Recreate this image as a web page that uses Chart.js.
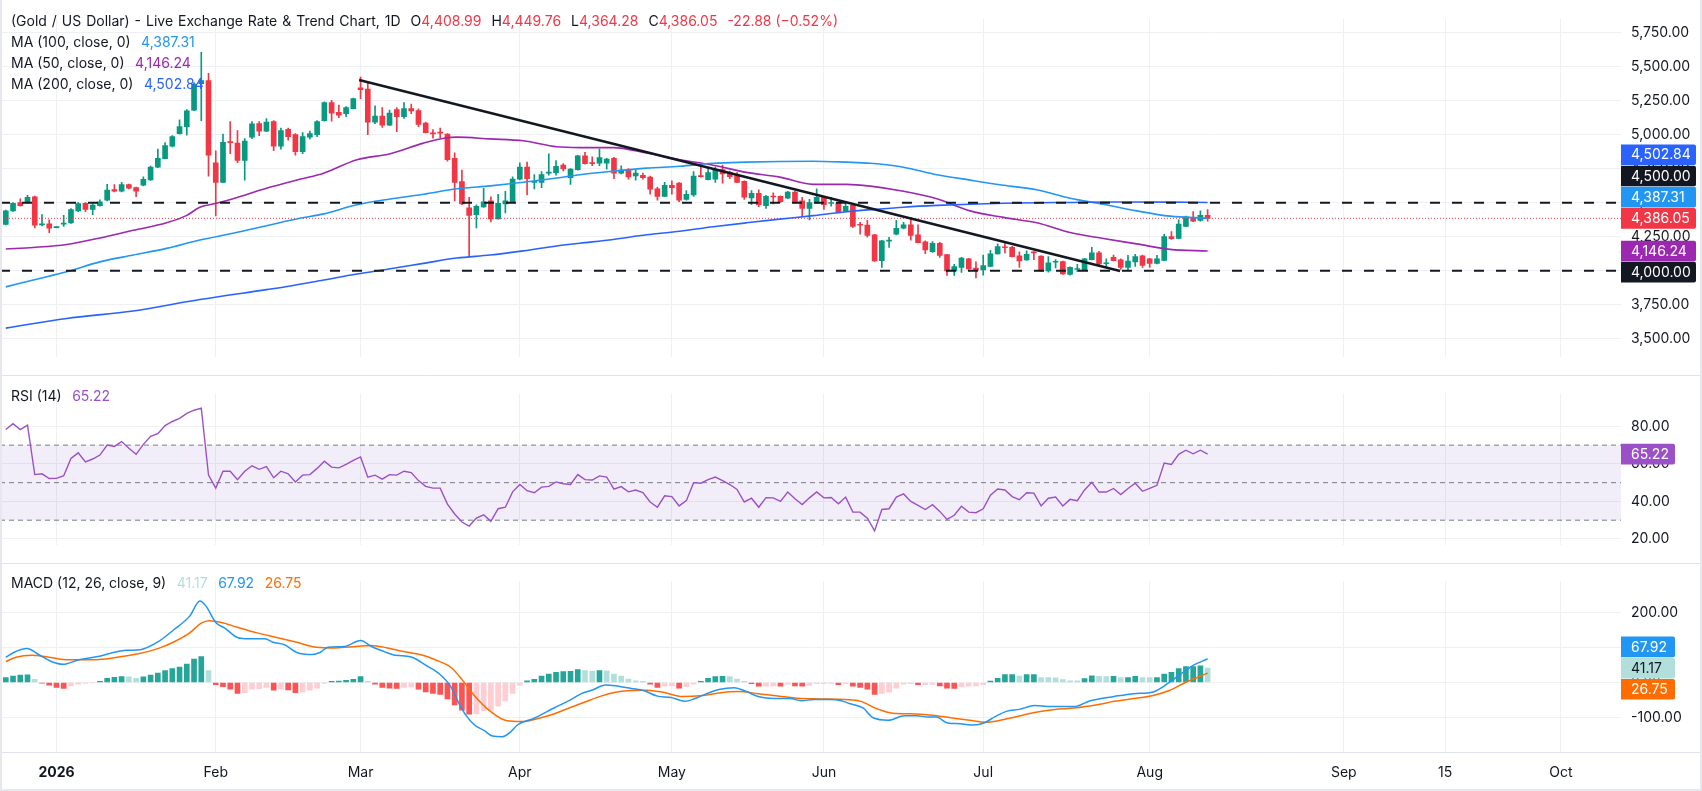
<!DOCTYPE html>
<html>
<head>
<meta charset="utf-8">
<title>Gold / US Dollar</title>
<script src="https://cdn.jsdelivr.net/npm/chart.js@4.4.1/dist/chart.umd.min.js"></script>
<style>
  html, body { margin: 0; padding: 0; background: #fff; }
  #wrap { position: relative; width: 1702px; height: 791px; overflow: hidden; font-family: Inter, sans-serif; background: #fff; }
  canvas { position: absolute; left: 0; }
  .lg { position: absolute; left: 11px; font-size: 14px; line-height: 20px; color: #131722; white-space: nowrap; }
  .lg .v { margin-left: 10.5px; }
  .lg .g { margin-left: 10px; }
  .lg .r { color: #f23645; }
  .lg .t { word-spacing: 1px; }
  .edge { position: absolute; background: #e6e8ee; }
</style>
</head>
<body>
<div id="wrap">
  <canvas id="priceChart" width="1702" height="375" style="top:0"></canvas>
  <canvas id="rsiChart" width="1702" height="188" style="top:375px"></canvas>
  <canvas id="macdChart" width="1702" height="228" style="top:563px"></canvas>

  <div class="lg" style="top:11px"><span class="t">(Gold / US Dollar) - Live Exchange Rate &amp; Trend Chart, 1D</span><span class="g">O<span class="r">4,408.99</span></span><span class="g">H<span class="r">4,449.76</span></span><span class="g">L<span class="r">4,364.28</span></span><span class="g">C<span class="r">4,386.05</span></span><span class="g r">-22.88 (−0.52%)</span></div>
  <div class="lg" style="top:32px">MA (100, close, 0)<span class="v" style="color:#2196f3">4,387.31</span></div>
  <div class="lg" style="top:53px">MA (50, close, 0)<span class="v" style="color:#9c27b0">4,146.24</span></div>
  <div class="lg" style="top:74px">MA (200, close, 0)<span class="v" style="color:#2962ff">4,502.84</span></div>
  <div class="lg" style="top:386px">RSI (14)<span class="v" style="color:#9c50c8">65.22</span></div>
  <div class="lg" style="top:573px">MACD (12, 26, close, 9)<span class="v" style="color:#b2dfdb">41.17</span><span class="v" style="color:#2196f3">67.92</span><span class="v" style="color:#ff6d00">26.75</span></div>

  <div class="edge" style="left:0;top:0;width:2px;height:791px"></div>
  <div class="edge" style="left:1700px;top:0;width:2px;height:791px"></div>
  <div class="edge" style="left:0;top:789px;width:1702px;height:2px"></div>
</div>
<script>
// daily candles, 22 Dec 2025 .. 11 Aug 2026 (index 0..166)
const open = [
  4342, 4441, 4501, 4501, 4545, 4337, 4346, 4318, 4344, 4353,
  4441, 4497, 4452, 4479, 4519, 4598, 4585, 4634, 4612, 4629,
  4669, 4762, 4824, 4917, 5009, 5060, 5182, 5376, 5399, 4795,
  4651, 4948, 4939, 4811, 4983, 5082, 5027, 5098, 4917, 5040,
  5001, 4877, 4983, 5001, 5105, 5237, 5166, 5155, 5193, 5346,
  5337, 5094, 5138, 5071, 5186, 5133, 5193, 5178, 5087, 5012,
  5016, 5005, 4828, 4656, 4463, 4413, 4470, 4514, 4382, 4492,
  4508, 4674, 4762, 4651, 4651, 4718, 4722, 4777, 4685, 4744,
  4846, 4793, 4791, 4791, 4828, 4718, 4740, 4698, 4702, 4689,
  4603, 4547, 4629, 4645, 4525, 4559, 4698, 4671, 4674, 4744,
  4722, 4700, 4658, 4536, 4570, 4479, 4547, 4547, 4534, 4579,
  4514, 4459, 4499, 4541, 4495, 4497, 4437, 4481, 4340, 4337,
  4265, 4074, 4218, 4269, 4313, 4338, 4265, 4214, 4141, 4203,
  4119, 3999, 4026, 4088, 4021, 4006, 4032, 4125, 4176, 4172,
  4110, 4081, 4136, 4108, 3999, 4063, 4068, 3973, 4010, 4006,
  4083, 4132, 4052, 4099, 4081, 4026, 4066, 4110, 4088, 4055,
  4077, 4251, 4238, 4326, 4393, 4371, 4408.99
];
const high = [
  4446, 4501, 4530, 4556, 4550, 4413, 4375, 4324, 4408, 4457,
  4501, 4501, 4490, 4523, 4636, 4634, 4651, 4638, 4616, 4691,
  4771, 4895, 4943, 4994, 5111, 5186, 5385, 5606, 5452, 4883,
  5005, 5098, 5032, 4972, 5098, 5098, 5120, 5105, 5049, 5049,
  5010, 5016, 5027, 5105, 5242, 5253, 5219, 5208, 5270, 5425,
  5392, 5213, 5200, 5182, 5200, 5237, 5226, 5191, 5094, 5038,
  5049, 5010, 4868, 4740, 4541, 4486, 4607, 4545, 4563, 4585,
  4691, 4795, 4800, 4707, 4729, 4861, 4811, 4788, 4751, 4850,
  4872, 4839, 4895, 4828, 4835, 4773, 4751, 4740, 4718, 4696,
  4614, 4651, 4662, 4649, 4590, 4729, 4773, 4762, 4762, 4777,
  4733, 4722, 4662, 4590, 4596, 4556, 4574, 4552, 4585, 4585,
  4541, 4525, 4603, 4547, 4541, 4508, 4508, 4486, 4357, 4371,
  4269, 4225, 4247, 4371, 4357, 4393, 4338, 4220, 4216, 4209,
  4121, 4048, 4099, 4092, 4066, 4116, 4150, 4198, 4209, 4181,
  4139, 4147, 4141, 4110, 4105, 4083, 4072, 4030, 4048, 4092,
  4172, 4143, 4088, 4116, 4088, 4114, 4121, 4116, 4092, 4114,
  4269, 4289, 4375, 4402, 4435, 4441, 4449.76
];
const low = [
  4337, 4437, 4475, 4497, 4315, 4331, 4280, 4315, 4326, 4349,
  4435, 4435, 4413, 4475, 4514, 4581, 4581, 4603, 4545, 4625,
  4665, 4758, 4822, 4912, 5005, 4998, 5177, 5104, 4696, 4404,
  4651, 4861, 4795, 4667, 4972, 4994, 5023, 4883, 4895, 4961,
  4850, 4861, 4970, 4987, 5100, 5100, 5127, 5133, 5191, 5266,
  5001, 5082, 5054, 5067, 5023, 5120, 5155, 5060, 5014, 4976,
  4979, 4806, 4514, 4486, 4103, 4315, 4466, 4360, 4380, 4426,
  4503, 4669, 4559, 4603, 4612, 4704, 4704, 4735, 4636, 4740,
  4784, 4773, 4773, 4747, 4678, 4713, 4674, 4667, 4674, 4563,
  4519, 4545, 4563, 4508, 4519, 4547, 4689, 4669, 4651, 4645,
  4678, 4649, 4525, 4486, 4472, 4459, 4492, 4503, 4530, 4497,
  4402, 4375, 4497, 4452, 4475, 4428, 4433, 4320, 4269, 4247,
  4070, 4026, 4172, 4265, 4309, 4225, 4205, 4127, 4136, 4099,
  3966, 3966, 3988, 4010, 3948, 3968, 4030, 4123, 4132, 4103,
  4026, 4077, 4083, 3995, 3990, 4021, 3973, 3968, 3993, 4004,
  4081, 4044, 4021, 4072, 4010, 4001, 4032, 4026, 4026, 4050,
  4074, 4231, 4234, 4324, 4362, 4366, 4364.28
];
const close = [
  4441, 4497, 4479, 4541, 4335, 4346, 4313, 4322, 4351, 4450,
  4494, 4452, 4483, 4508, 4594, 4585, 4634, 4607, 4585, 4673,
  4762, 4828, 4921, 4987, 5060, 5177, 5374, 5399, 4850, 4651,
  4945, 4943, 4811, 4954, 5080, 5027, 5093, 4917, 5032, 4987,
  4877, 4987, 5010, 5098, 5237, 5160, 5144, 5200, 5266, 5332,
  5094, 5138, 5071, 5160, 5133, 5193, 5175, 5076, 5016, 5007,
  5012, 4817, 4651, 4492, 4408, 4475, 4508, 4382, 4497, 4514,
  4674, 4762, 4678, 4658, 4707, 4722, 4769, 4749, 4749, 4846,
  4788, 4788, 4833, 4822, 4718, 4740, 4691, 4718, 4685, 4601,
  4547, 4629, 4612, 4519, 4563, 4696, 4693, 4722, 4746, 4713,
  4693, 4651, 4541, 4570, 4486, 4547, 4543, 4508, 4579, 4503,
  4459, 4501, 4541, 4486, 4499, 4430, 4475, 4327, 4335, 4260,
  4072, 4220, 4223, 4313, 4338, 4260, 4207, 4154, 4203, 4114,
  3999, 4032, 4094, 4015, 4004, 4039, 4125, 4178, 4170, 4105,
  4072, 4121, 4132, 3999, 4059, 4068, 3977, 4026, 4015, 4088,
  4132, 4050, 4057, 4074, 4026, 4072, 4105, 4039, 4055, 4088,
  4251, 4236, 4344, 4397, 4366, 4408.93, 4386.05
];

const ma50Idx = [0, 3.8, 8.4, 13, 17.6, 22.2, 25, 26.8, 29.1, 31.4, 36, 40.6, 43.9, 48.5, 53.1, 57.7, 60.9, 62.3, 66.9, 71.5, 76.1, 79.3, 83.9, 88.5, 93.1, 97.7, 102.3, 106.9, 111.5, 116.1, 119.4, 124, 128.6, 133.2, 137.8, 142.4, 147, 151.6, 156.2, 160.8, 166];
const ma50Val = [4161, 4172, 4194, 4242, 4298, 4353, 4408, 4468, 4497, 4530, 4607, 4673, 4718, 4817, 4861, 4939, 4979, 4983, 4970, 4956, 4912, 4906, 4906, 4866, 4817, 4777, 4724, 4689, 4636, 4636, 4623, 4585, 4530, 4441, 4393, 4353, 4282, 4238, 4198, 4158, 4146.24];
const ma100Idx = [0, 3.8, 8.4, 13, 17.6, 22.2, 26.8, 31.4, 36, 40.6, 43.9, 48.5, 53.1, 57.7, 62.3, 66.9, 71.5, 76.1, 79.3, 83.9, 88.5, 93.1, 97.7, 102.3, 106.9, 111.5, 116.1, 119.4, 124, 128.6, 133.2, 137.8, 142.4, 147, 151.6, 156.2, 160.8, 166];
const ma100Val = [3882, 3933, 3993, 4066, 4116, 4165, 4227, 4276, 4331, 4386, 4419, 4486, 4528, 4563, 4603, 4625, 4651, 4682, 4707, 4733, 4755, 4769, 4791, 4799, 4804, 4806, 4799, 4791, 4762, 4707, 4667, 4629, 4596, 4534, 4490, 4441, 4402, 4387.31];
const ma200Idx = [0, 8.4, 17.6, 26.8, 36, 39.3, 43.9, 48.5, 53.1, 57.7, 62.3, 66.9, 71.5, 76.1, 79.3, 83.9, 88.5, 93.1, 97.7, 102.3, 106.9, 111.5, 116.1, 120, 124, 128.6, 133.2, 137.8, 142.4, 147, 151.6, 156.2, 160.8, 166];
const ma200Val = [3579, 3650, 3705, 3789, 3862, 3889, 3933, 3977, 4015, 4055, 4094, 4116, 4147, 4183, 4203, 4231, 4265, 4291, 4324, 4353, 4380, 4406, 4435, 4452, 4468, 4481, 4490, 4497, 4501, 4503, 4506, 4506, 4505, 4502.84];

// drawn levels
const levels = [4500, 4000];
const trendIdx = [48.8, 153.9];
const trendVal = [5403, 3999];

// RSI (14), one value per bar
const rsi = [
  78.3, 81.4, 78.3, 80.7, 54.3, 54.7, 52.2, 52.3, 53.7, 62.9,
  65.9, 61.1, 62.6, 64.7, 70.0, 69.3, 71.9, 68.3, 65.1, 70.4,
  74.7, 76.1, 80.4, 82.6, 84.3, 86.9, 88.6, 89.7, 54.0, 47.1,
  56.1, 56.1, 51.6, 56.1, 59.0, 57.1, 58.6, 52.6, 56.1, 54.7,
  50.4, 54.0, 54.3, 57.6, 61.4, 58.3, 57.9, 59.7, 61.9, 63.7,
  52.9, 54.0, 51.9, 54.3, 54.0, 56.1, 55.4, 51.1, 48.0, 47.1,
  47.1, 38.6, 33.3, 29.0, 26.9, 31.1, 32.9, 29.4, 36.1, 36.9,
  45.1, 49.0, 45.7, 44.6, 47.6, 48.0, 50.4, 49.4, 49.0, 54.3,
  51.6, 51.4, 53.6, 53.0, 46.6, 47.9, 45.1, 46.1, 44.7, 39.7,
  36.9, 43.0, 42.6, 37.6, 40.4, 50.0, 49.7, 51.6, 53.0, 51.1,
  49.0, 46.4, 39.7, 41.7, 36.9, 42.0, 41.9, 40.0, 45.0, 41.4,
  38.3, 41.9, 45.1, 41.9, 42.1, 38.7, 42.3, 34.3, 34.3, 31.1,
  24.3, 35.7, 36.1, 42.3, 44.0, 40.0, 37.9, 35.7, 38.3, 34.7,
  30.4, 32.6, 37.4, 34.3, 34.0, 36.1, 43.3, 46.6, 46.1, 42.6,
  40.9, 44.6, 44.4, 37.6, 41.7, 42.3, 37.6, 41.1, 40.4, 46.1,
  50.2, 45.0, 45.0, 46.9, 43.7, 46.9, 49.7, 45.4, 46.9, 48.6,
  60.4, 59.7, 65.1, 67.3, 65.4, 67.3, 65.22
];
const rsiLevels = [70, 50, 30];

// MACD (12, 26, 9)
const hist = [
  14, 18, 21, 22, 9, -2, -8, -14, -17, -10,
  -5, -3, -1, 3, 12, 15, 17, 16, 12, 16,
  21, 27, 34, 40, 44, 53, 67, 74, 34, -6,
  -12, -19, -31, -29, -19, -18, -14, -22, -19, -21,
  -29, -28, -22, -16, -3, 3, 4, 6, 9, 17,
  3, -5, -14, -16, -17, -14, -13, -19, -27, -31,
  -34, -47, -64, -79, -91, -90, -81, -79, -68, -53,
  -31, -8, 5, 9, 18, 24, 29, 31, 32, 37,
  34, 33, 34, 33.5, 24, 18, 9.5, 5, 3.5, -5,
  -14, -10.5, -10, -16, -12, -5, 3.5, 12, 17, 17.5,
  17, 9.5, 3.5, -3.5, -10.5, -10.3, -10, -10.8, -5, -10,
  -10.5, -8.5, -3.5, -3.3, -3, -6, -3.5, -10.5, -14, -19,
  -34.5, -31, -28, -16.5, -5, -3.5, -6.5, -6, -5.8, -10,
  -16.5, -17, -12.5, -10.5, -10, -6, 4, 12, 22.5, 22.6,
  18, 22.5, 22.6, 14, 13.8, 13.6, 8.5, 5, 4.8, 11,
  19, 17.5, 17.2, 17.5, 14, 14.2, 17.5, 14, 13.8, 14,
  24, 29, 39.5, 45.5, 45.8, 47.5, 41.17
];
const macdIdx = [0, 1.1, 2.9, 4.7, 6.3, 7.9, 10.1, 12.9, 14.5, 16.7, 18.6, 21, 23.2, 25.4, 26.8, 27.6, 29, 30.3, 32, 33.6, 35.8, 36.9, 38.5, 40.2, 42.3, 43.4, 44.5, 46.7, 49, 50.5, 52.2, 53.8, 56, 58.2, 59.8, 61.5, 62.5, 63.6, 64.7, 66.1, 67.2, 68.6, 69.7, 70.7, 72.9, 75.7, 77.8, 79.5, 81.1, 82.8, 84.2, 86.4, 88.1, 90, 91.9, 93.8, 95.2, 96.8, 98.5, 100.6, 102.3, 103.9, 106.1, 108.3, 109.9, 111.6, 113.8, 115.4, 116.5, 118.4, 119.8, 121.9, 124.1, 125.8, 127.4, 128.5, 130.1, 131.8, 133.7, 135.1, 136.7, 138.3, 140, 142.1, 144.3, 147.6, 149.8, 153.1, 155.8, 158.5, 160.7, 162.4, 164, 166];
const macdVal = [72, 86, 97, 78, 60, 52, 65, 75, 84, 92, 94, 116, 151, 190, 233, 220, 172, 155, 129, 125, 125, 115, 108, 86, 80, 86, 101, 103, 120, 103, 89, 78, 73, 47, 26, -13, -56, -95, -121, -138, -153, -155, -142, -121, -103, -73, -52, -32, -21, -7, -9, -17, -23, -39, -43, -54, -46, -32, -20, -15, -26, -40, -46, -46, -52, -49, -49, -52, -60, -73, -101, -108, -95, -95, -99, -99, -116, -118, -122, -116, -97, -82, -77, -66, -69, -69, -52, -40, -32, -27, 0, 26, 49, 67.92];
const signalIdx = [0, 1.4, 3.6, 5.8, 7.9, 10.1, 12.9, 15.6, 18.3, 21, 23.2, 25.4, 27, 28.1, 29.8, 32, 34.7, 37.4, 40.2, 42.9, 45.6, 48.4, 50.5, 52.7, 54.9, 57.6, 59.3, 61.5, 63.1, 64.7, 66.9, 69.1, 71.3, 73.5, 75.7, 77.8, 80, 82.2, 84.2, 86.4, 88.6, 90.8, 93.5, 96.3, 98.5, 101.2, 103.9, 106.6, 109.4, 112.7, 115.9, 118.1, 120.3, 122.5, 125.8, 128.5, 131.2, 133.4, 135.3, 137.2, 139.4, 142.1, 144.9, 147.6, 150.9, 153.1, 155.8, 158.5, 160.7, 162.9, 166];
const signalVal = [60, 72, 78, 73, 66, 65, 66, 73, 82, 97, 116, 142, 170, 177, 172, 158, 142, 129, 115, 101, 99, 103, 106, 99, 89, 78, 65, 43, 6, -37, -82, -109, -112, -103, -90, -73, -56, -39, -28, -23, -22, -28, -40, -37, -30, -26, -32, -39, -45, -47, -49, -54, -75, -88, -90, -95, -103, -109, -114, -109, -99, -86, -77, -73, -63, -54, -46, -37, -23, 0, 26.75];

// axes
const tickIdx = [7, 29, 49, 71, 92, 113, 135, 158, 184.8, 198.8, 214.8];
const tickLabels = ['2026', 'Feb', 'Mar', 'Apr', 'May', 'Jun', 'Jul', 'Aug', 'Sep', '15', 'Oct'];
const priceTicks = [3500, 3750, 4000, 4250, 4500, 4750, 5000, 5250, 5500, 5750];
const rsiTicks = [20, 40, 60, 80];
const macdTicks = [-100, 0, 100, 200];

// layout
const BAR_PX = 7.24, FIRST_X = 5.8, PLOT_RIGHT = 1621, AXIS_W = 1702 - 1621;
const xMin = -FIRST_X / BAR_PX, xMax = xMin + PLOT_RIGHT / BAR_PX;
const UP = '#089981', DOWN = '#f23645', TEXT = '#131722', GRID = '#eef0f4', SEP = '#e0e3eb';
const RSI_C = '#9c50c8';
const FONT = { family: 'Inter', size: 14 };

const pts = (xs, ys) => xs.map((x, i) => ({ x: x, y: ys[i] }));
const hline = v => [{ x: xMin, y: v }, { x: xMax, y: v }];
const fmt2 = v => Number(v).toLocaleString('en-US', { minimumFractionDigits: 2, maximumFractionDigits: 2 });

function xScale(showLabels) {
  return {
    type: 'linear', min: xMin, max: xMax, bounds: 'data', offset: false,
    afterBuildTicks: s => { s.ticks = tickIdx.map(v => ({ value: v })); },
    afterFit: s => { s.height = showLabels ? 228 - 189 : 0; },
    grid: { color: GRID, drawTicks: false, offset: false },
    border: { display: false },
    ticks: {
      display: showLabels, autoSkip: false, maxRotation: 0, padding: 12, color: TEXT,
      font: c => ({ family: 'Inter', size: 14, weight: (c.tick && c.tick.label === '2026') ? 'bold' : 'normal' }),
      callback: (v, i) => tickLabels[i]
    }
  };
}
function yScale(min, max, ticks) {
  return {
    type: 'linear', position: 'right', min: min, max: max, bounds: 'data',
    afterBuildTicks: s => { s.ticks = ticks.map(v => ({ value: v })); },
    afterFit: s => { s.width = AXIS_W; },
    grid: { color: GRID, drawTicks: false },
    border: { display: false },
    ticks: { padding: 10, color: TEXT, font: FONT, callback: v => fmt2(v) }
  };
}

// value boxes on the right axis, pushed apart from the pinned one
function boxPlugin(items, boxW) {
  return {
    id: 'boxes',
    afterDraw(chart) {
      const ys = chart.scales.y, ctx = chart.ctx, x0 = chart.chartArea.right, H = 21.2;
      const pos = items.map(it => ys.getPixelForValue(it.v));
      const p = items.findIndex(it => it.pin);
      for (let i = p - 1; i >= 0; i--) pos[i] = Math.min(pos[i], pos[i + 1] - H);
      for (let i = p + 1; i < items.length; i++) pos[i] = Math.max(pos[i], pos[i - 1] + H);
      ctx.save();
      ctx.font = '14px Inter';
      ctx.textBaseline = 'middle';
      items.forEach((it, i) => {
        ctx.fillStyle = it.bg;
        ctx.beginPath();
        ctx.roundRect(x0, pos[i] - 10.3, boxW, 20.6, [0, 2, 2, 0]);
        ctx.fill();
        ctx.fillStyle = it.fg || '#ffffff';
        ctx.fillText(fmt2(it.v), x0 + 10, pos[i] + 0.5);
      });
      ctx.restore();
    }
  };
}
const separators = {
  id: 'separators',
  afterDraw(chart) {
    const ctx = chart.ctx, w = chart.width;
    ctx.save();
    ctx.strokeStyle = SEP;
    ctx.lineWidth = 1;
    ctx.beginPath();
    if (chart.canvas.id !== 'priceChart') { ctx.moveTo(0, 0.5); ctx.lineTo(w, 0.5); }
    if (chart.canvas.id === 'macdChart') {
      const b = Math.round(chart.chartArea.bottom) + 0.5;
      ctx.moveTo(0, b); ctx.lineTo(w, b);
    }
    ctx.stroke();
    ctx.restore();
  }
};

const common = {
  responsive: false, animation: false,
  layout: { padding: 0, autoPadding: false },
  plugins: { legend: { display: false }, tooltip: { enabled: false } }
};
const idx = close.map((_, i) => i);
const last = close.length - 1;

// ---- price pane
const candleColor = idx.map(i => close[i] >= open[i] ? UP : DOWN);
new Chart(document.getElementById('priceChart'), {
  type: 'bar',
  data: {
    datasets: [
      { type: 'bar', data: idx.map(i => ({ x: i, y: [low[i], high[i]] })), backgroundColor: candleColor,
        barThickness: 1, grouped: false, order: 10 },
      { type: 'bar', data: idx.map(i => ({ x: i, y: [Math.min(open[i], close[i]), Math.max(open[i], close[i])] })),
        backgroundColor: candleColor, barThickness: 5, minBarLength: 1, grouped: false, order: 9 },
      { type: 'line', data: pts(ma200Idx, ma200Val), borderColor: '#2962ff', borderWidth: 1.6, pointRadius: 0, cubicInterpolationMode: 'monotone', order: 6 },
      { type: 'line', data: pts(ma100Idx, ma100Val), borderColor: '#2196f3', borderWidth: 1.6, pointRadius: 0, cubicInterpolationMode: 'monotone', order: 6 },
      { type: 'line', data: pts(ma50Idx, ma50Val), borderColor: '#9c27b0', borderWidth: 1.6, pointRadius: 0, cubicInterpolationMode: 'monotone', order: 6 },
      { type: 'line', data: hline(close[last]), borderColor: DOWN, borderWidth: 1, borderDash: [1, 2], pointRadius: 0, order: 7 },
      ...levels.map(v => ({ type: 'line', data: hline(v), borderColor: TEXT, borderWidth: 2, borderDash: [10, 12], pointRadius: 0, order: 3 })),
      { type: 'line', data: pts(trendIdx, trendVal), borderColor: TEXT, borderWidth: 2.4, pointRadius: 0, order: 2 }
    ]
  },
  options: Object.assign({}, common, {
    scales: { x: xScale(false), y: yScale(3369.4, 5856.1, priceTicks) }
  }),
  plugins: [separators, boxPlugin([
    { v: ma200Val[ma200Val.length - 1], bg: '#2962ff' },
    { v: levels[0], bg: TEXT },
    { v: ma100Val[ma100Val.length - 1], bg: '#2196f3' },
    { v: close[last], bg: DOWN, pin: true },
    { v: ma50Val[ma50Val.length - 1], bg: '#9c27b0' },
    { v: levels[1], bg: TEXT }
  ], 75)]
});

// ---- RSI pane
new Chart(document.getElementById('rsiChart'), {
  type: 'line',
  data: {
    datasets: [
      { data: hline(rsiLevels[0]), borderColor: 'transparent', pointRadius: 0, fill: { value: rsiLevels[2] }, backgroundColor: 'rgba(126,87,194,0.1)', order: 9 },
      ...rsiLevels.map(v => ({ data: hline(v), borderColor: '#787b86', borderWidth: 1, borderDash: [5, 4], pointRadius: 0, order: 5 })),
      { data: pts(idx, rsi), borderColor: RSI_C, borderWidth: 1.4, pointRadius: 0, order: 1 }
    ]
  },
  options: Object.assign({}, common, {
    scales: { x: xScale(false), y: yScale(16.99, 97.57, rsiTicks) }
  }),
  plugins: [separators, boxPlugin([{ v: rsi[last], bg: RSI_C, pin: true }], 54)]
});

// ---- MACD pane
const histColor = hist.map((h, i) => {
  const p = i > 0 ? hist[i - 1] : h;
  if (h >= 0) return h >= p ? '#26a69a' : '#b2dfdb';
  return h < p ? '#ff5252' : '#ffcdd2';
});
new Chart(document.getElementById('macdChart'), {
  type: 'bar',
  data: {
    datasets: [
      { type: 'bar', data: idx.map(i => ({ x: i, y: hist[i] })), backgroundColor: histColor, barThickness: 5, grouped: false, order: 5 },
      { type: 'line', data: pts(signalIdx, signalVal), borderColor: '#ff6d00', borderWidth: 1.5, pointRadius: 0, cubicInterpolationMode: 'monotone', order: 2 },
      { type: 'line', data: pts(macdIdx, macdVal), borderColor: '#2196f3', borderWidth: 1.5, pointRadius: 0, cubicInterpolationMode: 'monotone', order: 1 }
    ]
  },
  options: Object.assign({}, common, {
    scales: { x: xScale(true), y: yScale(-199, 289.4, macdTicks) }
  }),
  plugins: [separators, boxPlugin([
    { v: macdVal[macdVal.length - 1], bg: '#2196f3' },
    { v: hist[last], bg: '#b2dfdb', fg: TEXT, pin: true },
    { v: signalVal[signalVal.length - 1], bg: '#ff6d00' }
  ], 54)]
});
</script>
</body>
</html>
